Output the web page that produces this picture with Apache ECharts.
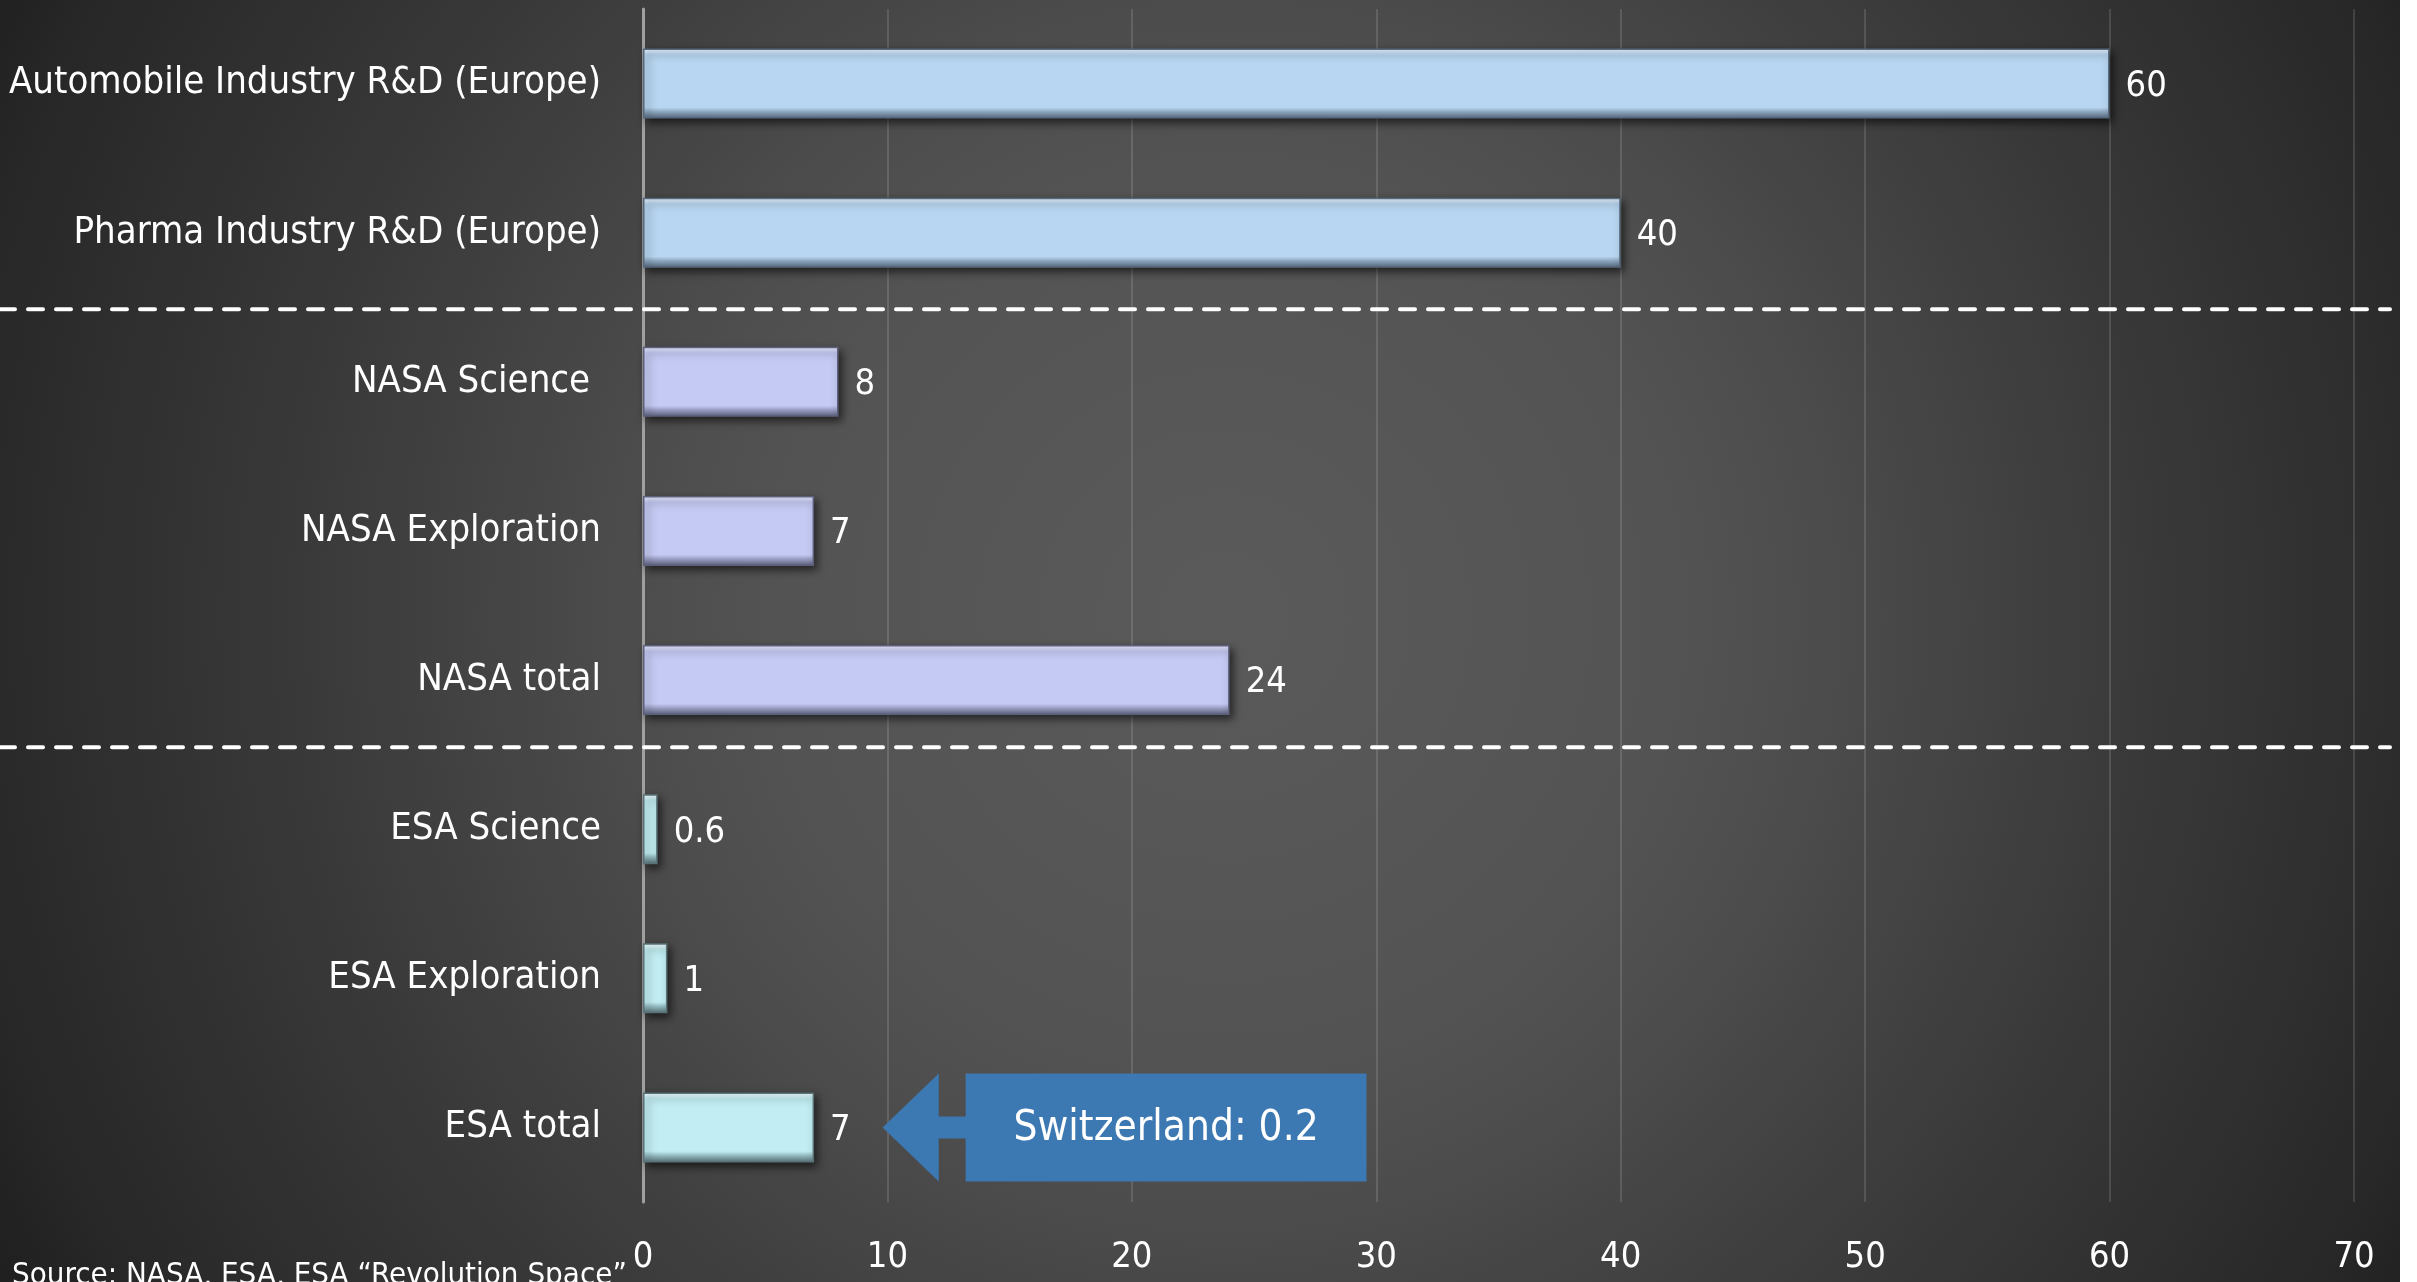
<!DOCTYPE html>
<html>
<head>
<meta charset="utf-8">
<script src="https://cdn.jsdelivr.net/npm/echarts@6/dist/echarts.min.js"></script>
<style>
  html, body { margin: 0; padding: 0; background: #fff; }
  #chart { width: 2400px; height: 1282px; }
</style>
</head>
<body>
<div id="chart"></div>
<script>
// data
const categories = ['Automobile Industry R&D (Europe)', 'Pharma Industry R&D (Europe)', 'NASA Science ', 'NASA Exploration', 'NASA total', 'ESA Science', 'ESA Exploration', 'ESA total'];
const values = [60, 40, 8, 7, 24, 0.6, 1, 7];
const groups = ['industry', 'industry', 'nasa', 'nasa', 'nasa', 'esa', 'esa', 'esa'];
const xTicks = [0, 10, 20, 30, 40, 50, 60, 70];
const sourceNote = 'Source: NASA, ESA, ESA \u201cRevolution Space\u201d';
const calloutText = 'Switzerland: 0.2';

const FONT = "'DejaVu Sans Condensed', 'Liberation Sans Narrow', sans-serif";

const palette = {
    industry: { top: '#eaf4fd', base: '#b8d6f1', low: '#8fa9c2', edge: '#56687c' },
    nasa:     { top: '#eceefe', base: '#c5caf4', low: '#9b9fc4', edge: '#5d607c' },
    esa:      { top: '#effcfd', base: '#c2eef3', low: '#94bcc2', edge: '#587277' }
};

function bevel(p) {
    return {
        color: new echarts.graphic.LinearGradient(0, 0, 0, 1, [
            { offset: 0, color: p.top },
            { offset: 0.09, color: p.base },
            { offset: 0.84, color: p.base },
            { offset: 0.9, color: p.low },
            { offset: 1, color: p.edge }
        ]),
        borderColor: p.edge,
        borderWidth: 1.5,
        shadowColor: 'rgba(0,0,0,0.6)',
        shadowBlur: 8,
        shadowOffsetX: 3,
        shadowOffsetY: 4
    };
}

const chart = echarts.init(document.getElementById('chart'));

chart.setOption({
    backgroundColor: {
        type: 'radial', x: 0.51, y: 0.48, r: 1.08,
        colorStops: [
            { offset: 0, color: '#5a5a5a' },
            { offset: 0.3, color: '#545454' },
            { offset: 0.41, color: '#4e4e4e' },
            { offset: 0.53, color: '#444444' },
            { offset: 0.67, color: '#393939' },
            { offset: 0.8, color: '#303030' },
            { offset: 0.93, color: '#272727' },
            { offset: 1, color: '#202020' }
        ]
    },
    animation: false,
    grid: { left: 643, right: 46, top: 9, bottom: 80, containLabel: false, outerBoundsMode: 'none' },
    xAxis: {
        type: 'value', min: xTicks[0], max: xTicks[xTicks.length - 1], interval: 10,
        axisLine: { show: false },
        axisTick: { show: false },
        splitLine: { lineStyle: { color: 'rgba(255,255,255,0.13)', width: 2 } },
        axisLabel: { color: '#fff', fontSize: 36, fontFamily: FONT, margin: 38 }
    },
    yAxis: {
        type: 'category', inverse: true, data: categories,
        axisLine: { lineStyle: { color: '#a0a0a0', width: 3 } },
        axisTick: { show: false },
        axisLabel: { color: '#fff', fontSize: 38, fontFamily: FONT, margin: 42, padding: [6, 0, 0, 0] }
    },
    series: [{
        type: 'bar',
        barWidth: 70,
        data: values.map((v, i) => ({ value: v, itemStyle: bevel(palette[groups[i]]) })),
        label: {
            show: true, position: 'right', distance: 16, offset: [0, 3],
            color: '#fff', fontSize: 36, fontFamily: FONT
        }
    }]
});

// separators, callout and source note, placed from the axes
const yOf = i => chart.convertToPixel({ yAxisIndex: 0 }, categories[i]);
const xOf = v => chart.convertToPixel({ xAxisIndex: 0 }, v);

const sep1 = (yOf(1) + yOf(2)) / 2 + 2;
const sep2 = yOf(4) + (yOf(5) - yOf(4)) * 0.45;
const cy = yOf(7);
const tipX = xOf(9.8), baseX = xOf(12.1), shaftX = xOf(13.2), boxR = xOf(29.6);
const half = 54, shaft = 11;

const dash = { stroke: '#fff', lineWidth: 4, lineDash: [15, 13], lineCap: 'round' };

chart.setOption({
    graphic: [
        { type: 'line', silent: true, z: 10, shape: { x1: 0, y1: sep1, x2: 2390, y2: sep1 }, style: dash },
        { type: 'line', silent: true, z: 10, shape: { x1: 0, y1: sep2, x2: 2390, y2: sep2 }, style: dash },
        {
            type: 'polygon', silent: true, z: 10,
            shape: { points: [
                [tipX, cy], [baseX, cy - half], [baseX, cy - shaft], [shaftX, cy - shaft],
                [shaftX, cy - half], [boxR, cy - half], [boxR, cy + half],
                [shaftX, cy + half], [shaftX, cy + shaft], [baseX, cy + shaft], [baseX, cy + half]
            ] },
            style: { fill: '#3c78b1' }
        },
        {
            type: 'text', silent: true, z: 11, x: (shaftX + boxR) / 2, y: cy + 2,
            style: { text: calloutText, fill: '#fff', font: '42px ' + FONT, align: 'center', verticalAlign: 'middle' }
        },
        {
            type: 'text', silent: true, z: 11, x: 12, y: 1276,
            style: { text: sourceNote, fill: '#fff', font: '31px ' + FONT, align: 'left', verticalAlign: 'middle' }
        }
    ]
});
</script>
</body>
</html>
